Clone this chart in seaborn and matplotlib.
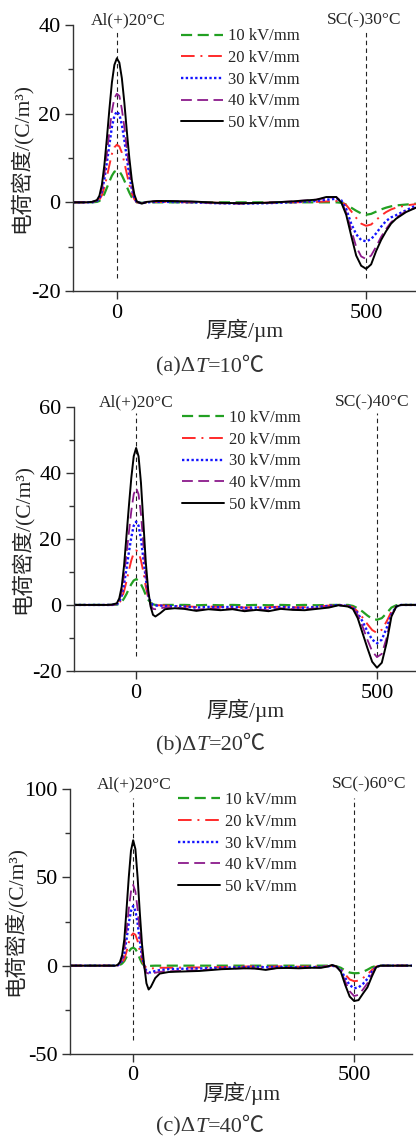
import matplotlib
matplotlib.use("Agg")
import numpy as np
import pandas as pd
import matplotlib.pyplot as plt
import seaborn as sns
from matplotlib.ticker import MultipleLocator, FixedLocator

# ---------------- data ----------------
FIELDS = ["10 kV/mm", "20 kV/mm", "30 kV/mm", "40 kV/mm", "50 kV/mm"]

X_A = [-88, -60, -50, -40, -35, -30, -25, -20, -15, -10, -5, 0, 5, 10, 15, 20, 25, 30, 35, 40,
       50, 60, 80, 100, 150, 200, 250, 300, 350, 400, 420, 440, 450, 460, 470, 480, 490, 500,
       510, 520, 530, 540, 550, 560, 580, 600]
A10 = [0, 0, 0, 0.1, 0.3, 0.9, 1.9, 3.3, 4.7, 6, 6.9, 7.2, 7, 6.1, 4.9, 3.5, 2.2, 1.1, 0.4, 0,
       -0.1, 0, 0, 0, 0, 0, 0, 0, 0, 0, 0, 0, -0.1, -0.5, -1.2, -1.9, -2.5, -2.8,
       -2.6, -2.1, -1.6, -1.2, -0.9, -0.7, -0.5, -0.3]
A20 = [0, 0, 0, 0.2, 0.6, 1.6, 3.4, 5.8, 8.4, 10.9, 12.4, 13, 12.6, 11.2, 9, 6.4, 4, 2, 0.7, 0,
       -0.1, 0, 0.1, 0.1, 0, -0.1, -0.2, -0.1, 0, 0.1, 0.2, 0.3, 0.1, -0.6, -2, -3.5, -4.8, -5.3,
       -5, -4, -3, -2.2, -1.6, -1.2, -0.7, -0.4]
A30 = [0, 0, 0, 0.3, 0.9, 2.5, 5.3, 9, 13, 17, 19.5, 20.5, 19.8, 17.5, 14, 10, 6, 3, 1, 0,
       -0.2, 0, 0.1, 0.1, 0, -0.2, -0.3, -0.2, 0, 0.3, 0.6, 0.8, 0.5, -1.5, -4.8, -7.2, -8.5, -8.8,
       -8.3, -7, -5.5, -4.2, -3.4, -2.9, -1.8, -0.7]
A40 = [0, 0, 0.1, 0.4, 1.1, 3, 6.4, 11, 16, 20.5, 23.5, 24.5, 24, 21, 17, 12, 7.5, 3.8, 1.3, 0.1,
       -0.2, 0.1, 0.3, 0.3, 0.1, -0.2, -0.3, -0.1, 0.2, 0.6, 1.0, 1.2, 0.2, -2.3, -6.2, -10, -12.2, -12.8,
       -12, -10, -7.8, -6, -4.5, -3.5, -2, -1.2]
A50 = [0, 0, 0.1, 0.5, 1.5, 4.0, 8.5, 14.5, 21, 27, 31, 32.5, 31.5, 28, 22.5, 16, 10, 5, 1.8, 0.2,
       -0.3, 0.1, 0.3, 0.3, 0.2, -0.1, -0.2, -0.1, 0.2, 0.6, 1.2, 1.2, 0, -2.8, -7.5, -12, -14.3, -15,
       -14, -11, -8.5, -6.5, -4.8, -3.7, -2.2, -1.2]

X_B = [-129, -60, -50, -40, -35, -30, -25, -20, -15, -10, -5, 0, 5, 10, 15, 20, 25, 30, 35, 40,
       50, 60, 80, 100, 125, 150, 175, 200, 225, 250, 275, 300, 325, 350, 375, 400, 420, 440,
       450, 460, 470, 480, 490, 500, 510, 520, 530, 540, 550, 581]
B10 = [0, 0, 0, 0.1, 0.3, 0.9, 2, 3.3, 4.9, 6.3, 7.4, 7.8, 7.4, 6.3, 4.8, 3, 1.6, 0.7, 0.2, 0,
       0, 0, 0, 0, -0.1, 0, -0.1, 0, -0.1, 0, -0.1, 0, -0.1, 0, -0.1, 0, 0, 0,
       -0.3, -1, -2, -3.2, -4.2, -4.5, -4, -2.5, -0.8, -0.1, 0, 0]
B20 = [0, 0, 0, 0.1, 0.6, 1.8, 4.2, 7.2, 10.5, 13.5, 15.7, 16.5, 16, 13.5, 10, 5.5, 2.2, 0.5, 0, -0.1,
       -0.1, -0.2, -0.3, -0.4, -0.6, -0.5, -0.6, -0.5, -0.8, -0.7, -0.7, -0.5, -0.7, -0.7, -0.5, -0.2, 0, -0.3,
       -0.7, -2, -3.8, -5.8, -7.6, -8.5, -7.5, -5, -2, -0.4, 0, 0]
B30 = [0, 0, 0, 0.2, 0.9, 2.8, 6.4, 11, 16, 20.5, 24, 25.2, 24, 20, 14, 8, 3, 0.8, 0, -0.2,
       -0.2, -0.3, -0.4, -0.5, -0.8, -0.6, -0.7, -0.6, -0.9, -0.8, -0.9, -0.6, -0.8, -0.9, -0.6, -0.3, 0, -0.3,
       -0.8, -2.5, -5, -8, -10.5, -11.6, -10.5, -7, -2.8, -0.5, 0, 0]
B40 = [0, 0, 0, 0.3, 1.3, 4, 9, 15.5, 22, 28.5, 33.5, 35.4, 33.5, 27.5, 18.5, 9.5, 3, 0, -1.2, -1.3,
       -1, -0.8, -0.8, -1, -1.5, -1.1, -1.3, -1.1, -1.6, -1.3, -1.6, -1, -1.3, -1.3, -1, -0.6, 0, -0.4,
       -1, -3, -6.5, -10.5, -14, -15.8, -14.8, -10, -3.2, -0.5, 0, 0]
B50 = [0, 0, 0.1, 0.5, 2, 5.5, 12, 21, 30, 38.5, 45, 47.5, 45, 37, 25, 13, 4.5, -0.5, -3, -3.5,
       -2.5, -1.3, -1, -1.2, -1.8, -1.3, -1.6, -1.3, -1.9, -1.5, -1.9, -1.2, -1.5, -1.6, -1.2, -0.8, -0.1, -0.5,
       -1.2, -4, -8.5, -13, -17.2, -19, -17.5, -11.5, -3.5, -0.5, 0, 0]

X_C = [-143, -60, -40, -35, -30, -25, -20, -15, -10, -5, 0, 5, 10, 15, 20, 25, 30, 35, 40,
       50, 60, 80, 100, 150, 200, 250, 275, 300, 325, 350, 375, 400, 425, 440,
       450, 460, 470, 480, 490, 500, 510, 520, 530, 540, 550, 560, 631]
C10 = [0, 0, 0, 0.1, 0.4, 1.2, 2.6, 5, 7.8, 9.6, 10.2, 9.4, 7.2, 4, 1.3, 0, -0.3, -0.2, -0.1,
       0, 0, 0, 0, 0, 0, 0, 0, 0, 0, 0, 0, 0, 0, 0,
       0, -0.3, -1.2, -2.8, -3.9, -4.3, -4.2, -3.5, -2.3, -0.9, -0.1, 0, 0]
C20 = [0, 0, 0, 0.1, 0.5, 1.6, 3.8, 8, 13, 16.8, 18.3, 17.5, 14, 8.5, 3, 0, -1.2, -1.6, -1.6,
       -1.4, -1.2, -1.2, -1.1, -1, -0.8, -0.5, -0.4, -0.7, -0.4, -0.4, -0.6, -0.5, -0.5, -0.3,
       0, -0.5, -2, -5, -7.8, -8.8, -8.5, -7, -5, -2.5, -0.5, 0, 0]
C30 = [0, 0, 0, 0.2, 1, 3, 7, 15, 24, 31, 33.8, 31, 24, 14, 5, 0, -3, -3.8, -3.8,
       -3, -2.5, -2, -1.8, -1.6, -1.2, -0.8, -0.6, -0.9, -0.7, -0.8, -1, -0.8, -0.8, -0.4,
       0, -0.6, -2.5, -7, -11, -12.8, -12.3, -10.3, -7.5, -3.5, -0.6, 0, 0]
C40 = [0, 0, 0, 0.3, 1.3, 4, 9.5, 20, 32, 42, 45.7, 42, 32, 19, 7, -1, -4, -4.5, -4.5,
       -4, -3.5, -3.2, -3, -2.6, -1.8, -1.4, -1.5, -2, -1.3, -1.2, -1.4, -1.1, -1, -0.3,
       0.3, -0.5, -3, -9, -14.5, -17.2, -16.5, -13.5, -10, -5, -0.8, 0, 0]
C50 = [0, 0, 0, 0.5, 2, 6, 15, 32, 50, 65, 71, 66, 50, 30, 12, 0, -10, -13.5, -12,
       -7, -4.5, -3.6, -3.4, -3, -2, -1.5, -1.6, -2.4, -1.4, -1.3, -1.5, -1.2, -1.2, -0.5,
       0.4, -0.5, -3.5, -11, -17.5, -20, -19.5, -15.8, -12.3, -6.2, -0.8, 0, 0]

CAPTIONS = [("(a)Δ", "T", "=10℃"), ("(b)Δ", "T", "=20℃"), ("(c)Δ", "T", "=40℃")]
AL_LABELS = ["Al(+)20°C", "Al(+)20°C", "Al(+)20°C"]
SC_LABELS = ["SC(-)30°C", "SC(-)40°C", "SC(-)60°C"]

# ---------------- style ----------------
sns.set_theme(style="ticks")
plt.rcParams["font.family"] = ["Liberation Serif", "Noto Sans CJK SC", "DejaVu Sans"]
plt.rcParams["axes.unicode_minus"] = False

COLORS = ["#22a022", "#ff2a2a", "#1414ff", "#8b1a8b", "#000000"]
STYLES = [(0, (5, 2.5)), (0, (7, 3, 1, 3)), (0, (1, 1)), (0, (6, 3)), "-"]
WIDTHS = [1.6, 1.4, 1.7, 1.3, 1.4]
SPINE = "#333333"

fig = plt.figure(figsize=(4.16, 11.41), dpi=100)
H = 1141.0
W = 416.0

panels = [
    dict(x=X_A, ys=[A10, A20, A30, A40, A50], rect=(73, 25, 416, 291), xlim=(-88, 600),
         ylim=(-20, 40), major=20, minor=10, vtop=38.5, vbot=-17, al_x=22, sc_x=496, cap_y=367),
    dict(x=X_B, ys=[B10, B20, B30, B40, B50], rect=(74, 406.7, 416, 671), xlim=(-129, 581),
         ylim=(-20, 60), major=20, minor=10, vtop=58, vbot=-15.5, al_x=1, sc_x=490, cap_y=746),
    dict(x=X_C, ys=[C10, C20, C30, C40, C50], rect=(70, 789, 412, 1054), xlim=(-143, 631),
         ylim=(-50, 100), major=50, minor=25, vtop=95, vbot=-42, al_x=2, sc_x=535, cap_y=1127),
]

for i, p in enumerate(panels):
    l, t, r, b = p["rect"]
    ax = fig.add_axes([l / W, 1 - b / H, (r - l) / W, (b - t) / H])
    handles = []
    for j in range(5):
        df = pd.DataFrame({"x": p["x"], "y": p["ys"][j]})
        sns.lineplot(data=df, x="x", y="y", ax=ax, color=COLORS[j], linestyle=STYLES[j],
                     linewidth=WIDTHS[j], sort=False, estimator=None, legend=False)
        handles.append(ax.lines[-1])
    ax.set_xlim(*p["xlim"])
    ax.set_ylim(*p["ylim"])
    # reference dashed lines
    for xv in (0, 500):
        ax.plot([xv, xv], [p["vbot"], p["vtop"]], color="#222222", lw=0.8,
                linestyle=(0, (4, 3)), zorder=1)
    ax.annotate(AL_LABELS[i], xy=(p["al_x"], 1), xycoords=("data", "axes fraction"),
                xytext=(0, 3), textcoords="offset points", ha="center", va="center",
                fontsize=12.5, annotation_clip=False)
    ax.annotate(SC_LABELS[i], xy=(p["sc_x"], 1), xycoords=("data", "axes fraction"),
                xytext=(0, 3), textcoords="offset points", ha="center", va="center",
                fontsize=12.5, annotation_clip=False)
    # axes cosmetics
    sns.despine(ax=ax)
    for s in ("left", "bottom"):
        ax.spines[s].set_color(SPINE)
        ax.spines[s].set_linewidth(1.0)
    ax.xaxis.set_major_locator(FixedLocator([0, 500]))
    ax.yaxis.set_major_locator(MultipleLocator(p["major"]))
    ax.yaxis.set_minor_locator(MultipleLocator(p["minor"]))
    ax.tick_params(axis="both", which="major", direction="out", length=6, width=1.0,
                   color=SPINE, labelsize=16, pad=3, labelcolor="black")
    ax.tick_params(axis="y", which="minor", direction="out", length=3.5, width=1.0, color=SPINE)
    ax.set_xlabel("厚度/µm", fontsize=15.5, labelpad=-3)
    ax.set_ylabel("电荷密度/(C/m³)", fontsize=15.5, labelpad=-1)
    leg = ax.legend(handles, FIELDS, loc="upper left", bbox_to_anchor=(0.306, 1.0),
                    frameon=False, fontsize=12, handlelength=2.5, handletextpad=0.3,
                    labelspacing=0.34, borderpad=0.2, borderaxespad=0)
    # caption
    t1 = fig.text(156 / W, 1 - p["cap_y"] / H, CAPTIONS[i][0], fontsize=16, color="#333333",
                  ha="left", va="center")
    t2 = ax.annotate(CAPTIONS[i][1], xy=(1, 0.5), xycoords=t1, ha="left", va="center",
                     fontsize=16, color="#333333", style="italic", annotation_clip=False)
    ax.annotate(CAPTIONS[i][2], xy=(1, 0.5), xycoords=t2, ha="left", va="center",
                fontsize=16, color="#333333", annotation_clip=False)

fig.savefig("out.png", dpi=100)
